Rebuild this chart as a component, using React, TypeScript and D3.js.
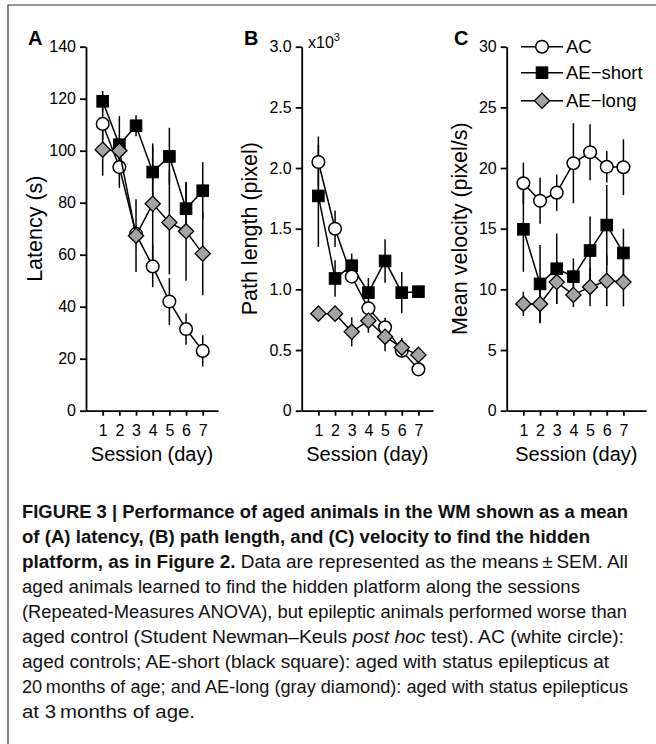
import React, { useEffect, useRef } from 'react';
import * as d3 from 'd3';

// sessions (day)
const sessions = [1, 2, 3, 4, 5, 6, 7];

// A: latency (s)
const latencyAC = [110.3, 93.7, 68, 55.5, 42, 31.4, 23];
const latencyACErr = [6, 8, 3, 8, 9, 6, 6];
const latencyShort = [119, 102.3, 109.6, 91.8, 97.8, 77.7, 84.6];
const latencyShortErr = [4, 11, 4, 11, 11, 10, 11];
const latencyLong = [100.4, 100, 67.3, 79.6, 72.4, 69, 60.4];
const latencyLongErr = [10, 4, 14, 22, 20, 19, 16];

// B: path length (x10^3 pixel)
const pathAC = [2.05, 1.5, 1.105, 0.844, 0.687, 0.495, 0.341];
const pathACErr = [0.21, 0.15, 0.05, 0.05, 0.08, 0.05, 0.04];
const pathShort = [1.77, 1.09, 1.195, 0.973, 1.234, 0.973, 0.981];
const pathShortErr = [0.42, 0.15, 0.1, 0.12, 0.18, 0.17, 0.02];
const pathLong = [0.8, 0.8, 0.65, 0.742, 0.61, 0.52, 0.46];
const pathLongErr = [0.03, 0.03, 0.12, 0.1, 0.12, 0.08, 0.05];

// C: mean velocity (pixel/s)
const velAC = [18.75, 17.3, 17.97, 20.4, 21.3, 20.1, 20.07];
const velACErr = [1.7, 1.9, 1.5, 3.3, 2.3, 1.3, 2.3];
const velShort = [14.95, 10.45, 11.7, 11.05, 13.2, 15.3, 13.0];
const velShortErr = [3.5, 3.2, 2.9, 1.5, 2.8, 3.3, 2.0];
const velLong = [8.8, 8.8, 10.6, 9.54, 10.2, 10.7, 10.6];
const velLongErr = [1.0, 1.6, 1.8, 1.0, 1.6, 2.1, 2.0];

const latencyTicks = [0, 20, 40, 60, 80, 100, 120, 140];
const pathTicks = [0, 0.5, 1.0, 1.5, 2.0, 2.5, 3.0];
const velTicks = [0, 5, 10, 15, 20, 25, 30];

const legendNames = ['AC', 'AE\u2212short', 'AE\u2212long'];

const captionLines = [
  [{ t: 'FIGURE 3 | Performance of aged animals in the WM shown as a mean', w: 'bold' }],
  [{ t: 'of (A) latency, (B) path length, and (C) velocity to find the hidden', w: 'bold' }],
  [{ t: 'platform, as in Figure 2.', w: 'bold' }, { t: ' Data are represented as the means\u2009\u00b1\u2009SEM. All' }],
  [{ t: 'aged animals learned to find the hidden platform along the sessions' }],
  [{ t: '(Repeated-Measures ANOVA), but epileptic animals performed worse than' }],
  [{ t: 'aged control (Student Newman\u2013Keuls ' }, { t: 'post hoc', i: true }, { t: ' test). AC (white circle):' }],
  [{ t: 'aged controls; AE-short (black square): aged with status epilepticus at' }],
  [{ t: '20\u2009months of age; and AE-long (gray diamond): aged with status epilepticus' }],
  [{ t: 'at 3\u2009months of age.' }],
];
const captionEnds = [628, 590, 628, 580, 627, 624, 609, 628, 195];

const FONT = '"Liberation Sans", Arial, Helvetica, sans-serif';
const GRAY = '#a3a3a3';

function drawMarker(g, kind, cx, cy) {
  if (kind === 'circle') {
    g.append('circle').attr('cx', cx).attr('cy', cy).attr('r', 6.3)
      .attr('fill', '#fff').attr('stroke', '#000').attr('stroke-width', 1.5);
  } else if (kind === 'square') {
    g.append('rect').attr('x', cx - 5.8).attr('y', cy - 5.8).attr('width', 11.6).attr('height', 11.6)
      .attr('fill', '#000').attr('stroke', '#000').attr('stroke-width', 1);
  } else {
    const d = 7.6;
    g.append('path').attr('d', `M${cx},${cy - d}L${cx + d},${cy}L${cx},${cy + d}L${cx - d},${cy}Z`)
      .attr('fill', GRAY).attr('stroke', '#000').attr('stroke-width', 1.3);
  }
}

function drawPanel(svg, cfg) {
  const top = 46.7;
  const bottom = 410.7;
  const y = d3.scaleLinear().domain([0, cfg.yMax]).range([bottom, top]);
  const x = d3.scaleLinear().domain([0, 8]).range([cfg.axisX, cfg.axisX + 133.4]);
  const xAxisScale = x.copy().domain([0, x.invert(cfg.xEnd)]).range([cfg.axisX, cfg.xEnd]);

  const g = svg.append('g');

  const ya = g.append('g')
    .attr('transform', `translate(${cfg.axisX},0)`)
    .call(d3.axisLeft(y).tickValues(cfg.ticks).tickSize(6).tickPadding(4).tickSizeOuter(0).tickFormat(cfg.fmt));
  ya.selectAll('text').attr('font-size', 16).attr('font-family', FONT).attr('fill', '#000');
  ya.selectAll('line,path').attr('stroke', '#000').attr('stroke-width', 1.8);

  const xa = g.append('g')
    .attr('transform', `translate(0,${bottom})`)
    .call(d3.axisBottom(xAxisScale).tickValues(sessions).tickSize(5).tickPadding(9).tickSizeOuter(0).tickFormat(d3.format('d')));
  xa.selectAll('text').attr('font-size', 16).attr('font-family', FONT).attr('fill', '#000');
  xa.selectAll('line,path').attr('stroke', '#000').attr('stroke-width', 1.8);

  g.append('text')
    .attr('transform', `translate(${cfg.yLabelX},${(top + bottom) / 2}) rotate(-90)`)
    .attr('text-anchor', 'middle').attr('font-size', 21.5).attr('font-family', FONT)
    .text(cfg.yLabel);

  g.append('text')
    .attr('x', (cfg.axisX + cfg.xEnd) / 2).attr('y', 461)
    .attr('text-anchor', 'middle').attr('font-size', 20).attr('font-family', FONT)
    .text('Session (day)');

  g.append('text')
    .attr('x', cfg.letterX).attr('y', 45)
    .attr('font-size', 20).attr('font-weight', 'bold').attr('font-family', FONT)
    .text(cfg.letter);

  const line = d3.line().x((d, i) => x(sessions[i])).y(d => y(d));

  cfg.series.forEach(s => {
    const sg = g.append('g');
    s.values.forEach((v, i) => {
      sg.append('line')
        .attr('x1', x(sessions[i])).attr('x2', x(sessions[i]))
        .attr('y1', y(v - s.err[i])).attr('y2', y(v + s.err[i]))
        .attr('stroke', '#000').attr('stroke-width', 1.5);
    });
  });
  cfg.series.forEach(s => {
    const sg = g.append('g');
    sg.append('path').datum(s.values)
      .attr('d', line).attr('fill', 'none').attr('stroke', '#000').attr('stroke-width', 1.5);
    s.values.forEach((v, i) => drawMarker(sg, s.kind, x(sessions[i]), y(v)));
  });
  return g;
}

const App = () => {
  const ref = useRef(null);

  useEffect(() => {
    const svg = d3.select(ref.current);
    svg.selectAll('*').remove();

    // frame
    svg.append('path').attr('d', 'M656,5H8V744').attr('fill', 'none')
      .attr('stroke', '#333').attr('stroke-width', 1.2);

    drawPanel(svg, {
      axisX: 86, xEnd: 218, yMax: 140, ticks: latencyTicks, fmt: d3.format('d'),
      yLabel: 'Latency (s)', yLabelX: 42, letter: 'A', letterX: 28,
      series: [
        { kind: 'square', values: latencyShort, err: latencyShortErr },
        { kind: 'circle', values: latencyAC, err: latencyACErr },
        { kind: 'diamond', values: latencyLong, err: latencyLongErr },
      ],
    });

    const b = drawPanel(svg, {
      axisX: 301.7, xEnd: 433, yMax: 3.0, ticks: pathTicks, fmt: d => (d === 0 ? '0' : d3.format('.1f')(d)),
      yLabel: 'Path length (pixel)', yLabelX: 257, letter: 'B', letterX: 244,
      series: [
        { kind: 'square', values: pathShort, err: pathShortErr },
        { kind: 'circle', values: pathAC, err: pathACErr },
        { kind: 'diamond', values: pathLong, err: pathLongErr },
      ],
    });
    const mult = b.append('text').attr('x', 308).attr('y', 48).attr('font-size', 16).attr('font-family', FONT);
    mult.append('tspan').text('x10');
    mult.append('tspan').attr('dy', -7).attr('font-size', 11).text('3');

    const c = drawPanel(svg, {
      axisX: 506.7, xEnd: 646, yMax: 30, ticks: velTicks, fmt: d3.format('d'),
      yLabel: 'Mean velocity (pixel/s)', yLabelX: 467, letter: 'C', letterX: 454,
      series: [
        { kind: 'square', values: velShort, err: velShortErr },
        { kind: 'circle', values: velAC, err: velACErr },
        { kind: 'diamond', values: velLong, err: velLongErr },
      ],
    });

    // legend
    const kinds = ['circle', 'square', 'diamond'];
    const ly = [46.7, 72.7, 100.7];
    legendNames.forEach((name, i) => {
      const lg = c.append('g');
      lg.append('line').attr('x1', 521).attr('x2', 563).attr('y1', ly[i]).attr('y2', ly[i])
        .attr('stroke', '#000').attr('stroke-width', 1.5);
      drawMarker(lg, kinds[i], 542, ly[i]);
      lg.append('text').attr('x', 566).attr('y', ly[i] + 6.5)
        .attr('font-size', 18.5).attr('font-family', FONT).text(name);
    });

    // caption
    captionLines.forEach((parts, i) => {
      const t = svg.append('text')
        .attr('x', 22).attr('y', 518 + i * 25)
        .attr('font-size', 17.5).attr('font-family', '"Liberation Sans Narrow", "Arial Narrow", ' + FONT)
        .attr('fill', '#111')
        .attr('textLength', captionEnds[i] - 22).attr('lengthAdjust', 'spacingAndGlyphs');
      parts.forEach(p => {
        t.append('tspan')
          .attr('font-weight', p.w || 'normal')
          .attr('font-style', p.i ? 'italic' : 'normal')
          .text(p.t);
      });
    });
  }, []);

  return (
    <svg ref={ref} width={656} height={744}
      style={{ position: 'absolute', left: 0, top: 0, background: '#fff' }} />
  );
};

export default App;
